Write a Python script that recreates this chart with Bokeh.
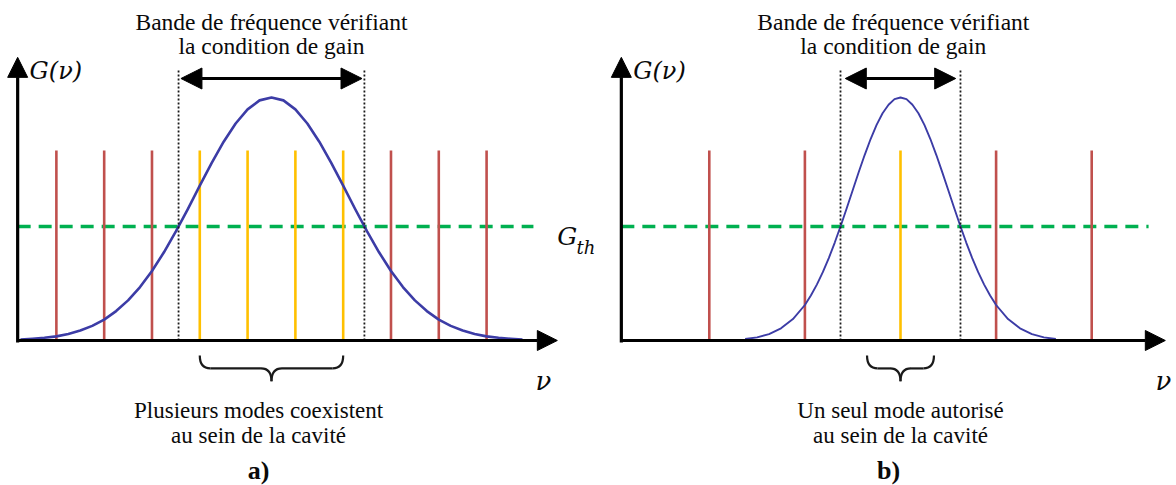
from bokeh.plotting import figure
from bokeh.layouts import row
from bokeh.models import Range1d, Arrow, NormalHead
from bokeh.core.properties import value
from bokeh.embed import file_html
from bokeh.resources import INLINE

# ---------------- data (frequency in units of the cavity mode spacing of panel a) -------------
# Panel a: long cavity, broad gain curve
a_modes_yellow = [-1.5, -0.5, 0.5, 1.5]
a_modes_red = [-4.5, -3.5, -2.5, 2.5, 3.5, 4.5]
a_gain_x = [-5.25, -5.0, -4.75, -4.5, -4.25, -4.0, -3.75, -3.5, -3.25, -3.0, -2.75, -2.5,
            -2.25, -2.0, -1.75, -1.5, -1.25, -1.0, -0.75, -0.5, -0.25, 0.0,
            0.25, 0.5, 0.75, 1.0, 1.25, 1.5, 1.75, 2.0, 2.25, 2.5, 2.75, 3.0,
            3.25, 3.5, 3.75, 4.0, 4.25, 4.5, 4.75, 5.0, 5.25]
a_gain_y = [0.004, 0.007, 0.011, 0.017, 0.027, 0.041, 0.060, 0.086, 0.121, 0.165, 0.220, 0.286,
            0.363, 0.449, 0.541, 0.637, 0.731, 0.818, 0.893, 0.951, 0.988, 1.000,
            0.988, 0.951, 0.893, 0.818, 0.731, 0.637, 0.541, 0.449, 0.363, 0.286, 0.220, 0.165,
            0.121, 0.086, 0.060, 0.041, 0.027, 0.017, 0.011, 0.007, 0.004]
a_band = [-1.944, 1.944]

# Panel b: short cavity (mode spacing doubled), narrow gain curve
b_modes_red = [-4.0, -2.0, 2.0, 4.0]
b_modes_yellow = [0.0]
b_gain_x = [-3.25, -3.0, -2.75, -2.5, -2.25, -2.0, -1.875, -1.75, -1.625, -1.5, -1.375, -1.25,
            -1.125, -1.0, -0.875, -0.75, -0.625, -0.5, -0.375, -0.25, -0.125, 0.0,
            0.125, 0.25, 0.375, 0.5, 0.625, 0.75, 0.875, 1.0, 1.125, 1.25, 1.375, 1.5,
            1.625, 1.75, 1.875, 2.0, 2.25, 2.5, 2.75, 3.0, 3.25]
b_gain_y = [0.006, 0.013, 0.026, 0.050, 0.088, 0.146, 0.185, 0.230, 0.281, 0.339, 0.403, 0.472,
            0.544, 0.618, 0.692, 0.763, 0.829, 0.887, 0.935, 0.970, 0.993, 1.000,
            0.993, 0.970, 0.935, 0.887, 0.829, 0.763, 0.692, 0.618, 0.544, 0.472, 0.403, 0.339,
            0.281, 0.230, 0.185, 0.146, 0.088, 0.050, 0.026, 0.013, 0.006]
b_band = [-1.255, 1.255]

G_TH = 0.469
MODE_HEIGHT = 0.782

TITLE = ["Bande de fréquence vérifiant", "la condition de gain"]
CAPTION_A = ["Plusieurs modes coexistent", "au sein de la cavité"]
CAPTION_B = ["Un seul mode autorisé", "au sein de la cavité"]

# ---------------- styles ----------------
RED = "#C0504D"
YELLOW = "#FFC000"
BLUE = "#3C3CA6"
GREEN = "#00B050"
INK = "#0a0a0a"
SERIF = value("Liberation Serif")
MATH = value("DejaVu Serif")
H = 485
Y_RANGE = (-0.5967, 1.399)


def make_panel(width, xr, axis_x, axis_end, dash_end, modes_red, modes_yellow, gx, gy, band,
               arrow_inset, gain_width, title_x, cap_lines, cap_x, brace_half, letter, letter_x, nu_x,
               gth_label):
    p = figure(width=width, height=H, x_range=Range1d(*xr), y_range=Range1d(*Y_RANGE),
               output_backend="svg", toolbar_location=None, min_border=0,
               background_fill_color="white", border_fill_color="white")
    p.axis.visible = False
    p.grid.visible = False
    p.outline_line_color = None

    # Gth threshold
    p.line([axis_x, dash_end], [G_TH, G_TH], line_color=GREEN, line_width=3.6, line_dash="13 8")

    # cavity modes
    p.segment(x0=modes_red, y0=[0] * len(modes_red), x1=modes_red, y1=[MODE_HEIGHT] * len(modes_red),
              line_color=RED, line_width=2.6)
    p.segment(x0=modes_yellow, y0=[0] * len(modes_yellow), x1=modes_yellow,
              y1=[MODE_HEIGHT] * len(modes_yellow), line_color=YELLOW, line_width=2.6)

    # gain curve
    p.line(gx, gy, line_color=BLUE, line_width=gain_width, line_join="round")

    # band limits (dotted)
    top = 1.111
    p.segment(x0=band, y0=[0, 0], x1=band, y1=[top, top], line_color="#1a1a1a",
              line_width=1.8, line_dash="2 2")

    # double arrow
    ya = 1.078
    p.add_layout(Arrow(x_start=band[0] + arrow_inset, y_start=ya, x_end=band[1] - arrow_inset, y_end=ya,
                       line_width=3, line_color="black",
                       start=NormalHead(size=21, fill_color="black", line_color="black"),
                       end=NormalHead(size=21, fill_color="black", line_color="black")))

    # axes
    p.add_layout(Arrow(x_start=axis_x, y_start=-0.008, x_end=axis_x, y_end=1.165, line_width=3.2,
                       line_color="black", end=NormalHead(size=20, fill_color="black", line_color="black")))
    p.add_layout(Arrow(x_start=axis_x, y_start=0, x_end=axis_end, y_end=0, line_width=3.2,
                       line_color="black", end=NormalHead(size=20, fill_color="black", line_color="black")))

    # brace under the allowed modes
    xc = sum(modes_yellow) / len(modes_yellow)
    x0, x1 = xc - brace_half, xc + brace_half
    yt, ym, yb = -0.062, -0.115, -0.168
    r = 0.22
    p.quadratic(x0=[x0, xc - r, xc + r, x1], y0=[yt, ym, ym, yt],
                x1=[x0 + r, xc, xc, x1 - r], y1=[ym, yb, yb, ym],
                cx=[x0, xc, xc, x1], cy=[ym, ym, ym, ym], line_color="#1a1a1a", line_width=2.2)
    p.segment(x0=[x0 + r, xc + r], y0=[ym, ym], x1=[xc - r, x1 - r], y1=[ym, ym],
              line_color="#1a1a1a", line_width=2.2)

    # texts
    p.text(x=[title_x, title_x], y=[1.309, 1.210], text=TITLE, text_font=SERIF, text_font_size="23.5px",
           text_align="center", text_baseline="middle", text_color=INK)
    p.text(x=[cap_x, cap_x], y=[-0.288, -0.391], text=cap_lines, text_font=SERIF, text_font_size="23px",
           text_align="center", text_baseline="middle", text_color=INK)
    p.text(x=[letter_x], y=[-0.535], text=[letter], text_font=SERIF, text_font_size="26px",
           text_font_style="bold", text_align="center", text_baseline="middle", text_color=INK)
    p.text(x=[axis_x + 0.25], y=[1.11], text=["G(ν)"], text_font=MATH, text_font_size="24px",
           text_font_style="italic", text_align="left", text_baseline="middle", text_color=INK)
    p.text(x=[nu_x], y=[-0.165], text=["ν"], text_font=MATH, text_font_size="26px",
           text_font_style="italic", text_align="center", text_baseline="middle", text_color=INK)
    if gth_label:
        p.text(x=[axis_end], y=[G_TH - 0.04], text=["G"], text_font=MATH, text_font_size="25px",
               text_font_style="italic", text_align="left", text_baseline="middle", text_color=INK)
        p.text(x=[axis_end + 0.40], y=[G_TH - 0.085], text=["th"], text_font=MATH, text_font_size="18px",
               text_font_style="italic", text_align="left", text_baseline="middle", text_color=INK)
    return p


pa = make_panel(600, (-5.669, 6.883), -5.31, 5.98, 5.48, a_modes_red, a_modes_yellow,
                a_gain_x, a_gain_y, a_band, 0.05, 2.6, 0.0, CAPTION_A, -0.27, 1.5, "a)", -0.27, 5.69, True)
pb = make_panel(576, (-6.276, 5.774), -5.84, 5.54, 5.19, b_modes_red, b_modes_yellow,
                b_gain_x, b_gain_y, b_band, 0.10, 1.9, -0.15, CAPTION_B, 0.0, 0.7, "b)", -0.25, 5.5, False)

layout = row(pa, pb, spacing=0)
open("out.html", "w").write(file_html(layout, INLINE))
